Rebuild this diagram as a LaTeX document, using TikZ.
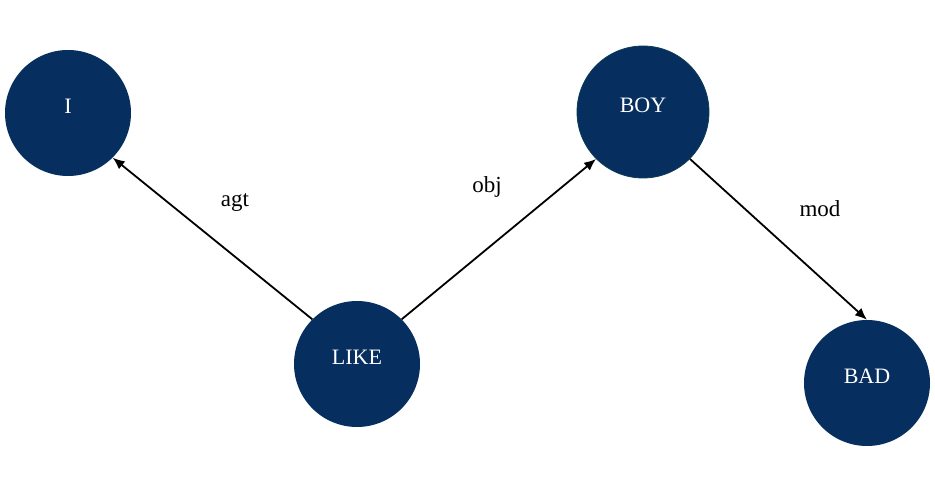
\documentclass[tikz,border=0pt]{standalone}
\usepackage{fontspec}
\setmainfont{Liberation Serif}
\usetikzlibrary{arrows.meta}
\definecolor{navy}{HTML}{062F5F}
\definecolor{navyedge}{HTML}{0E3A55}
\begin{document}
\begin{tikzpicture}[x=1bp,y=-1bp,
  concept/.style={circle,fill=navy,draw=none,inner sep=0pt,minimum size=126bp},
  concepttext/.style={text=white,font=\fontsize{22bp}{26bp}\selectfont,inner sep=0pt},
  rel/.style={font=\fontsize{23bp}{27bp}\selectfont,inner sep=0pt},
  link/.style={draw=black,line width=1.8bp,-{Latex[length=12bp,width=10bp]}}]
\useasboundingbox (0,0) rectangle (935,502);
\node[concept] (i) at (68,113) {};
\node[concept] (like) at (357,364) {};
\node[concept,minimum size=132bp,draw=navyedge,line width=0.8bp] (boy) at (643,112) {};
\node[concept] (bad) at (867,383) {};
\node[concepttext] (it) at ([yshift=7bp]i.center) {I};
\node[concepttext] (liket) at ([yshift=7bp]like.center) {LIKE};
\node[concepttext] (boyt) at ([yshift=7bp]boy.center) {BOY};
\node[concepttext] (badt) at ([yshift=7bp]bad.center) {BAD};
\node[rel] (agt) at (235,203) {agt};
\node[rel] (obj) at (487,187) {obj};
\node[rel] (mod) at (820,209) {mod};
\draw[link] (like.135) -- (i.-45);
\draw[link] (like.45) -- (boy.-135);
\draw[link] (boy.-45) -- (bad.north);
\end{tikzpicture}
\end{document}
